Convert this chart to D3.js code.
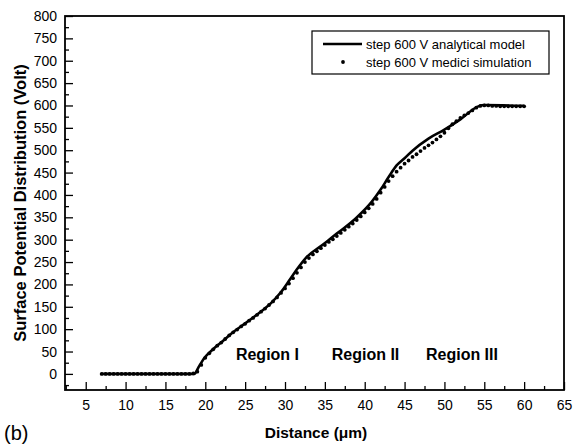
<!DOCTYPE html>
<html>
<head>
<meta charset="utf-8">
<script src="https://cdn.jsdelivr.net/npm/d3@7"></script>
<style>
  body { margin: 0; background: #fff; }
  text { font-family: "Liberation Sans", Arial, sans-serif; fill: #000; }
  .tick text { font-size: 14px; }
  .axisTitle { font-weight: bold; }
  .region { font-size: 16px; font-weight: bold; }
  .legendText { font-size: 13px; }
</style>
</head>
<body>
<svg id="chart" width="574" height="446"></svg>
<script>
// analytical model curve (µm, V)
const modelX = [7, 18.6, 19.25, 19.9, 20.9, 22.1, 23.4, 25.1, 26.75, 28.4, 29.5, 30.5, 31.5, 32.6, 34.6, 36.75, 38.9, 40.9, 42, 43, 44, 45, 46, 48, 50, 52, 54.25, 55, 60];
const modelV = [0, 0, 18, 36, 54, 72, 92, 114, 136, 161, 183, 208, 234, 259, 287, 317, 348, 385, 412, 440, 466, 482, 499, 526, 546, 569, 598, 601, 599];

// medici simulation points
const simX = [7, 7.5, 8, 8.5, 9, 9.5, 10, 10.5, 11, 11.5, 12, 12.5, 13, 13.5, 14, 14.5, 15, 15.5, 16, 16.5, 17, 17.5, 18, 18.5,
  19, 19.5, 20, 20.5, 21, 21.5, 22, 22.5, 23, 23.5, 24, 24.5, 25, 25.5, 26, 26.5, 27, 27.5, 28, 28.5, 29, 29.5,
  30, 30.5, 31, 31.5, 32, 32.5, 33, 33.5, 34, 34.5, 35, 35.5, 36, 36.5, 37, 37.5, 38, 38.5, 39, 39.5,
  40, 40.5, 41, 41.5, 42, 42.5, 43, 43.5, 44, 44.5, 45, 45.5, 46, 46.5, 47, 47.5, 48, 48.5, 49, 49.5,
  50, 50.5, 51, 51.5, 52, 52.5, 53, 53.5, 54, 54.5, 55, 55.5, 56, 56.5, 57, 57.5, 58, 58.5, 59, 59.5, 60];
const simV = [0, 0, 0, 0, 0, 0, 0, 0, 0, 0, 0, 0, 0, 0, 0, 0, 0, 0, 0, 0, 0, 0, 0, 1,
  5, 20, 36, 46, 55, 63, 70, 78, 86, 93, 99, 106, 112, 119, 125, 132, 139, 146, 154, 162, 171, 181,
  191, 202, 214, 226, 238, 250, 259, 267, 274, 281, 288, 295, 301, 308, 315, 322, 329, 336, 344, 352,
  361, 370, 380, 391, 405, 418, 431, 442, 452, 461, 470, 477, 485, 491, 498, 505, 511, 517, 524, 531,
  539, 549, 558, 565, 572, 578, 583, 589, 595, 599, 600, 600, 599, 599, 598, 598, 598, 598, 598, 598, 598];

const xMajor = [5, 10, 15, 20, 25, 30, 35, 40, 45, 50, 55, 60, 65];
const xMinor = [2.5, 7.5, 12.5, 17.5, 22.5, 27.5, 32.5, 37.5, 42.5, 47.5, 52.5, 57.5, 62.5];
const yMajor = [0, 50, 100, 150, 200, 250, 300, 350, 400, 450, 500, 550, 600, 650, 700, 750, 800];
const yMinor = [-25, 25, 75, 125, 175, 225, 275, 325, 375, 425, 475, 525, 575, 625, 675, 725, 775];

const regions = [
  { label: "Region I", x: 27.8 },
  { label: "Region II", x: 40.1 },
  { label: "Region III", x: 52.2 }
];
const legendItems = ["step 600 V analytical model", "step 600 V medici simulation"];

const svg = d3.select("#chart");
const margin = { left: 65, right: 564, top: 16, bottom: 390 };

const x = d3.scaleLinear().domain([2.4, 65]).range([margin.left, margin.right]);
const y = d3.scaleLinear().domain([-36, 800]).range([margin.bottom, margin.top]);

// axes with inward ticks
svg.append("g")
  .attr("transform", `translate(0,${margin.bottom})`)
  .call(d3.axisBottom(x).tickValues(xMinor).tickSize(-4).tickFormat(""))
  .call(g => g.select(".domain").remove());
svg.append("g")
  .attr("transform", `translate(0,${margin.bottom})`)
  .call(d3.axisBottom(x).tickValues(xMajor).tickSize(-8).tickPadding(10).tickFormat(d3.format("d")))
  .call(g => g.select(".domain").remove());

svg.append("g")
  .attr("transform", `translate(${margin.left},0)`)
  .call(d3.axisLeft(y).tickValues(yMinor).tickSize(-4).tickFormat(""))
  .call(g => g.select(".domain").remove());
svg.append("g")
  .attr("transform", `translate(${margin.left},0)`)
  .call(d3.axisLeft(y).tickValues(yMajor).tickSize(-8).tickPadding(8).tickFormat(d3.format("d")))
  .call(g => g.select(".domain").remove());

svg.selectAll(".tick line").attr("stroke", "#000").attr("stroke-width", 1.3);

// frame
svg.append("rect")
  .attr("x", margin.left).attr("y", margin.top)
  .attr("width", margin.right - margin.left).attr("height", margin.bottom - margin.top)
  .attr("fill", "none").attr("stroke", "#000").attr("stroke-width", 1.8);

// analytical model line
const modelPts = modelX.map((d, i) => [d, modelV[i]]);
svg.append("path")
  .datum(modelPts)
  .attr("fill", "none")
  .attr("stroke", "#000")
  .attr("stroke-width", 2.6)
  .attr("d", d3.line().x(d => x(d[0])).y(d => y(d[1])).curve(d3.curveMonotoneX));

// simulation dots
svg.append("g").selectAll("circle")
  .data(simX.map((d, i) => [d, simV[i]]))
  .join("circle")
  .attr("cx", d => x(d[0]))
  .attr("cy", d => y(d[1]))
  .attr("r", 1.9)
  .attr("fill", "#000");

// region labels
svg.selectAll(".region")
  .data(regions)
  .join("text")
  .attr("class", "region")
  .attr("x", d => x(d.x))
  .attr("y", y(30))
  .attr("text-anchor", "middle")
  .text(d => d.label);

// legend
const lg = svg.append("g");
lg.append("rect")
  .attr("x", 312).attr("y", 31).attr("width", 237).attr("height", 43)
  .attr("fill", "#fff").attr("stroke", "#000").attr("stroke-width", 1.2);
lg.append("line")
  .attr("x1", 323).attr("x2", 362).attr("y1", 44).attr("y2", 44)
  .attr("stroke", "#000").attr("stroke-width", 2.6);
lg.append("circle").attr("cx", 343).attr("cy", 62).attr("r", 1.9).attr("fill", "#000");
lg.selectAll(".legendText")
  .data(legendItems)
  .join("text")
  .attr("class", "legendText")
  .attr("x", 366)
  .attr("y", (d, i) => 48.5 + i * 18)
  .text(d => d);

// axis titles
svg.append("text")
  .attr("class", "axisTitle")
  .style("font-size", "15.5px")
  .attr("x", 316)
  .attr("y", 438)
  .attr("text-anchor", "middle")
  .text("Distance (μm)");
svg.append("text")
  .attr("class", "axisTitle")
  .style("font-size", "16.5px")
  .attr("transform", `translate(26,${(margin.top + margin.bottom) / 2}) rotate(-90)`)
  .attr("text-anchor", "middle")
  .text("Surface Potential Distribution (Volt)");

svg.append("text")
  .attr("x", 4).attr("y", 440)
  .style("font-size", "20px")
  .text("(b)");
</script>
</body>
</html>
